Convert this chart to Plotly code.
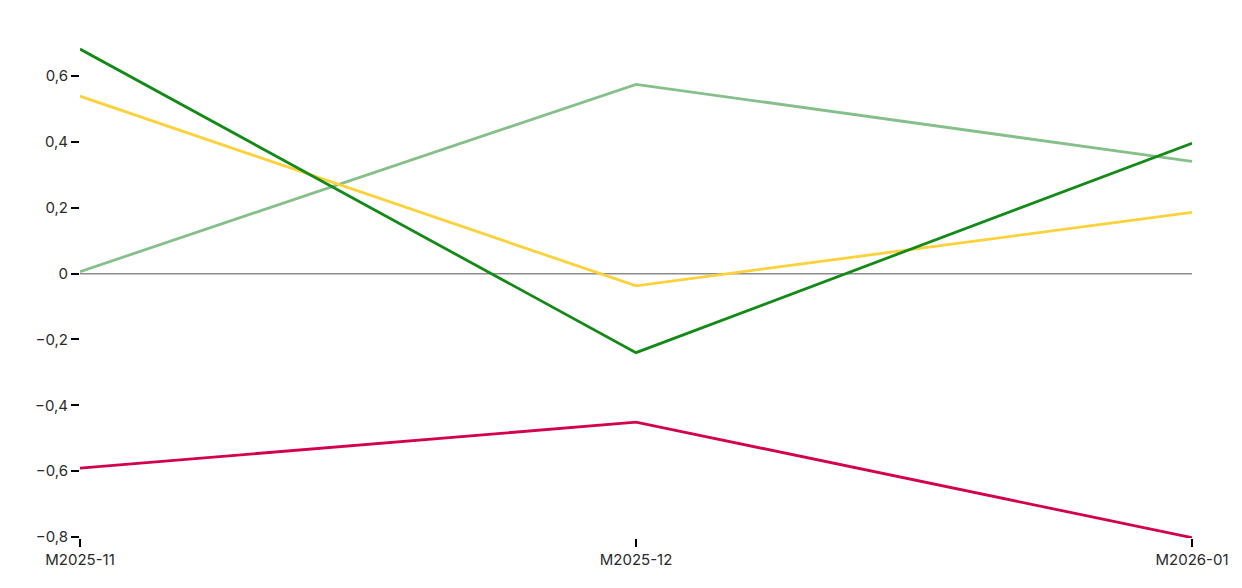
import plotly.graph_objects as go

months = ["M2025-11", "M2025-12", "M2026-01"]

light_green = [0.006, 0.575, 0.341]
yellow = [0.539, -0.037, 0.186]
dark_green = [0.682, -0.240, 0.396]
red = [-0.591, -0.451, -0.802]

y_ticks = [-0.8, -0.6, -0.4, -0.2, 0, 0.2, 0.4, 0.6]
y_labels = ["\u22120,8", "\u22120,6", "\u22120,4", "\u22120,2", "0", "0,2", "0,4", "0,6"]

fontsize = 15

fig = go.Figure()

# zero line
fig.add_trace(go.Scatter(x=months, y=[0, 0, 0], mode='lines', line=dict(color='#8c8c8c', width=1.5),
                         hoverinfo='skip', showlegend=False))

fig.add_trace(go.Scatter(name='light green', x=months, y=light_green, mode='lines',
                         line=dict(color='#85c08a', width=2.8)))
fig.add_trace(go.Scatter(name='yellow', x=months, y=yellow, mode='lines',
                         line=dict(color='#fdd13a', width=2.8)))
fig.add_trace(go.Scatter(name='dark green', x=months, y=dark_green, mode='lines',
                         line=dict(color='#138a17', width=2.8)))
fig.add_trace(go.Scatter(name='red', x=months, y=red, mode='lines',
                         line=dict(color='#d3004c', width=2.8)))

# page body has an 8px default margin, so margins are shifted by that
fig.update_layout(width=1242, height=588, autosize=False, showlegend=False,
                  plot_bgcolor='white', paper_bgcolor='white',
                  margin=dict(l=72, r=58, t=22, b=58),
                  font=dict(family="Inter", size=fontsize, color="#2a2a2a"))

fig.update_xaxes(type='category', range=[0, 2], showgrid=False, zeroline=False, showline=False,
                 ticks='outside', ticklen=8, tickwidth=2, tickcolor='black')
fig.update_yaxes(range=[-0.803, 0.74], showgrid=False, zeroline=False, showline=False,
                 tickvals=y_ticks, ticktext=y_labels,
                 ticks='outside', ticklen=8, tickwidth=2, tickcolor='black')

fig.write_html("out.html")
